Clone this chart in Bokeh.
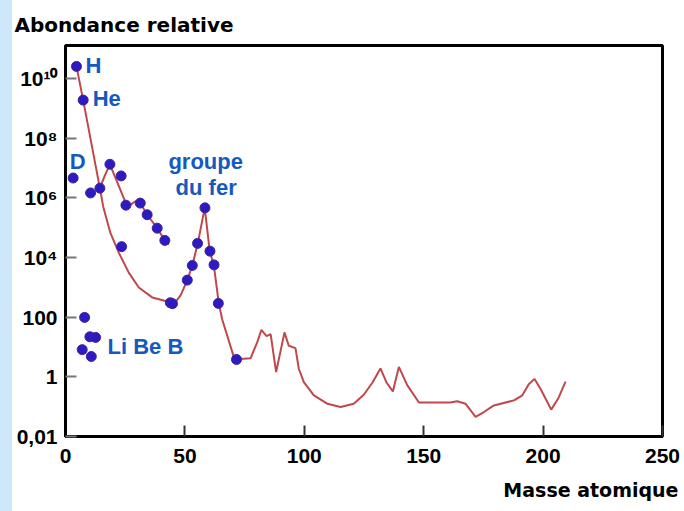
import numpy as np
from bokeh.plotting import figure
from bokeh.models import Range1d, FixedTicker, Label, Spacer, Title
from bokeh.layouts import row
from bokeh.embed import file_html
from bokeh.resources import INLINE

# Main abundance curve: mass number vs log10(relative abundance)
main_mass = [4.6, 7.4, 14.4, 15.8, 18.8, 22.3, 26.5, 30.7, 36.3, 41.9, 44.0, 46.0,
             48.2, 51.0, 53.1, 55.4, 58.3, 60.4, 62.1, 64.2, 65.6, 70.5, 71.6, 77.5,
             80.3, 82.0, 84.2, 85.9, 88.2, 91.7, 93.5, 96.3, 97.7, 99.8, 104.0, 109.6,
             115.2, 120.7, 124.9, 128.5, 131.9, 134.5, 137.1, 139.6, 143.1, 148.0,
             152.9, 161.2, 164.0, 167.5, 171.7, 175.2, 179.4, 187.8, 191.3, 194.0,
             196.4, 198.9, 203.4, 206.5, 209.4]
main_log = [10.4, 9.27, 6.32, 5.7, 4.82, 4.16, 3.49, 2.99, 2.66, 2.54, 2.47, 2.5,
            2.73, 3.24, 3.73, 4.47, 5.66, 4.21, 3.74, 2.46, 1.93, 0.66, 0.59, 0.62,
            1.16, 1.57, 1.36, 1.43, 0.16, 1.49, 1.04, 0.96, 0.27, -0.18, -0.62, -0.9,
            -1.01, -0.9, -0.6, -0.2, 0.28, -0.2, -0.49, 0.33, -0.28, -0.86,
            -0.86, -0.86, -0.82, -0.9, -1.34, -1.18, -0.96, -0.79, -0.62, -0.25,
            -0.07, -0.4, -1.1, -0.7, -0.16]

# Upper branch through the light elements (C, N, O ... Ca)
upper_mass = [14.4, 16.5, 18.6, 22.3, 25.5, 27.2, 29.3, 31.3, 34.2, 38.4, 41.6, 43.3]
upper_log = [6.32, 6.75, 7.12, 6.4, 5.77, 5.76, 5.88, 5.82, 5.43, 4.98, 4.57, 4.43]

# Measured abundances (dots)
dot_mass = [4.6, 7.4, 3.2, 10.5, 14.4, 18.6, 23.3, 25.3, 31.3, 34.2, 38.4, 41.6,
            23.5, 43.9, 44.8, 51.0, 53.1, 55.3, 58.4, 60.5, 62.2, 64.0, 71.6,
            8.0, 10.2, 12.6, 7.0, 10.8]
dot_log = [10.4, 9.27, 6.66, 6.16, 6.32, 7.12, 6.73, 5.75, 5.82, 5.43, 4.98, 4.57,
           4.36, 2.48, 2.45, 3.24, 3.73, 4.47, 5.66, 4.21, 3.75, 2.46, 0.58,
           1.99, 1.34, 1.32, 0.91, 0.68]

x_ticks = [0, 50, 100, 150, 200, 250]
y_ticks = [0.01, 1, 100, 1e4, 1e6, 1e8, 1e10]
y_tick_labels = ["0,01", "1", "100", "10\u2074", "10\u2076", "10\u2078", "10\u00b9\u2070"]

# (text, mass, log10 abundance) for the element annotations
notes = [("H", 8.4, 10.43), ("He", 11.4, 9.34), ("D", 1.8, 7.23),
         ("groupe", 43.1, 7.23), ("du fer", 46.1, 6.33), ("Li Be B", 17.6, 1.0)]

LINE = "#c0484a"
DOT_FILL = "#2d1bc2"
DOT_EDGE = "#45229a"
NOTE = "#1559c0"
TICK_FONT = "Liberation Sans"
HEAD_FONT = "DejaVu Sans"

p = figure(width=672, height=511, y_axis_type="log",
           x_range=Range1d(0, 250), y_range=Range1d(0.01, 10 ** 11.1),
           output_backend="svg", toolbar_location=None,
           min_border_left=53, min_border_right=22,
           min_border_top=45, min_border_bottom=73)
p.background_fill_color = "white"
p.border_fill_color = "white"
p.grid.visible = False
p.outline_line_color = "black"
p.outline_line_width = 3

# vertical axis title, written across the top
p.title.text = "Abondance relative"
p.title.align = "left"
p.title.offset = -51
p.title.text_font = HEAD_FONT
p.title.text_font_style = "bold"
p.title.text_font_size = "20px"
p.title.text_color = "black"
p.title.standoff = 17

# horizontal axis title, bottom right
p.add_layout(Title(text="Masse atomique", align="right", offset=-16,
                   text_font=HEAD_FONT, text_font_style="bold",
                   text_font_size="19px", text_color="black", standoff=22), "below")

# axes
p.xaxis.ticker = FixedTicker(ticks=x_ticks)
p.xaxis.major_tick_in = 11
p.xaxis.major_tick_out = 0
p.xaxis.major_tick_line_color = "#333333"
p.xaxis.major_tick_line_width = 2
p.xaxis.minor_tick_line_color = None
p.xaxis.axis_line_width = 3
p.xaxis.major_label_text_font = TICK_FONT
p.xaxis.major_label_text_font_style = "bold"
p.xaxis.major_label_text_font_size = "21px"
p.xaxis.major_label_text_color = "black"
p.xaxis.major_label_standoff = 12

p.yaxis.ticker = FixedTicker(ticks=y_ticks)
p.yaxis.major_label_overrides = dict(zip(y_ticks, y_tick_labels))
p.yaxis.major_tick_in = 11
p.yaxis.major_tick_out = 0
p.yaxis.major_tick_line_color = "#777777"
p.yaxis.major_tick_line_width = 2
p.yaxis.minor_tick_line_color = None
p.yaxis.axis_line_width = 3
p.yaxis.major_label_text_font = TICK_FONT
p.yaxis.major_label_text_font_style = "bold"
p.yaxis.major_label_text_font_size = "21px"
p.yaxis.major_label_text_color = "black"
p.yaxis.major_label_standoff = 8

# curves and dots
p.line(main_mass, np.power(10.0, main_log), line_color=LINE, line_width=2)
p.line(upper_mass, np.power(10.0, upper_log), line_color=LINE, line_width=2)
p.scatter(dot_mass, np.power(10.0, dot_log), size=10, fill_color=DOT_FILL,
          line_color=DOT_EDGE, line_width=1)

# element annotations
for txt, mx, ly in notes:
    p.add_layout(Label(x=mx, y=10 ** ly, text=txt, text_align="left",
                       text_baseline="middle", text_font=TICK_FONT,
                       text_font_style="bold", text_font_size="22px",
                       text_color=NOTE))

strip = Spacer(width=12, height=511, styles={"background-color": "#cde8fb"})
layout = row(strip, p)

open("out.html", "w").write(file_html(layout, INLINE))
